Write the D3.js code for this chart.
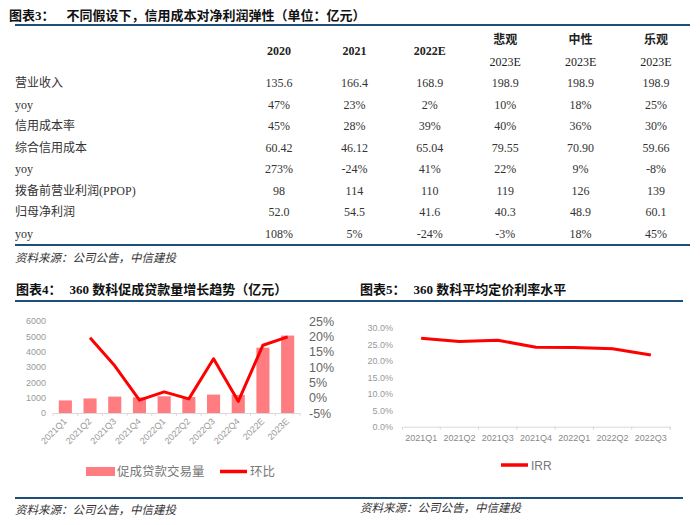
<!DOCTYPE html>
<html><head><meta charset="utf-8">
<script src="https://cdn.jsdelivr.net/npm/d3@7/dist/d3.min.js"></script>
<style>
body{margin:0;background:#fff;}
svg{display:block;}
</style></head>
<body><svg id="c" width="700" height="525"></svg>
<script>
// ---------- DATA ----------
const tableCols = ["2020","2021","2022E","2023E","2023E","2023E"];
const scenarioLabels = ["悲观","中性","乐观"];
const rowLabels = ["营业收入","yoy","信用成本率","综合信用成本","yoy","拨备前营业利润(PPOP)","归母净利润","yoy"];
const rowRevenue   = ["135.6","166.4","168.9","198.9","198.9","198.9"];
const rowRevYoy    = ["47%","23%","2%","10%","18%","25%"];
const rowCostRate  = ["45%","28%","39%","40%","36%","30%"];
const rowCredit    = ["60.42","46.12","65.04","79.55","70.90","59.66"];
const rowCreditYoy = ["273%","-24%","41%","22%","9%","-8%"];
const rowPPOP      = ["98","114","110","119","126","139"];
const rowProfit    = ["52.0","54.5","41.6","40.3","48.9","60.1"];
const rowProfitYoy = ["108%","5%","-24%","-3%","18%","45%"];
const tableRows = [rowRevenue,rowRevYoy,rowCostRate,rowCredit,rowCreditYoy,rowPPOP,rowProfit,rowProfitYoy];

const loanCats = ["2021Q1","2021Q2","2021Q3","2021Q4","2022Q1","2022Q2","2022Q3","2022Q4","2022E","2023E"];
const loanVolume = [820,950,1070,1020,1090,1040,1200,1180,4260,5050];
const loanQoQ = [null,19.5,10.4,-0.8,1.9,-0.4,12.7,-1.2,17.1,19.8];
const loanLeftTicks = [0,1000,2000,3000,4000,5000,6000];
const loanRightTicks = [-5,0,5,10,15,20,25];

const irrCats = ["2021Q1","2021Q2","2021Q3","2021Q4","2022Q1","2022Q2","2022Q3"];
const irrValues = [26.8,25.8,26.2,24.1,24.0,23.6,21.7];
const irrTicks = [0,5,10,15,20,25,30];

// ---------- STYLES ----------
const svg = d3.select("#c");
const BLUE = "#1f4e79";
const CJK = "'Noto Sans CJK SC', sans-serif";
const SERIF = "'Liberation Serif', 'Noto Sans CJK SC', serif";
const AX = "'Liberation Sans', 'Noto Sans CJK SC', sans-serif";

function hline(x1,x2,y){
  svg.append("line").attr("x1",x1).attr("x2",x2).attr("y1",y).attr("y2",y)
    .attr("stroke",BLUE).attr("stroke-width",2);
}
function title(x,y,prefix,num,rest){
  const t = svg.append("text").attr("x",x).attr("y",y).attr("font-size",13)
    .attr("font-weight","bold").attr("fill","#111");
  t.append("tspan").attr("font-family",SERIF).text(prefix);
  if(num) t.append("tspan").attr("font-family",SERIF).attr("dx",8).text(num+" ");
  t.append("tspan").attr("font-family",CJK).attr("dx",num?0:12).text(rest);
}
function source(x,y){
  svg.append("text").attr("x",x).attr("y",y).attr("font-size",11.5)
    .attr("font-family",CJK).attr("font-style","italic").attr("fill","#333")
    .text("资料来源：公司公告，中信建投");
}

// ---------- TABLE ----------
title(9,20,"图表3：",null,"不同假设下，信用成本对净利润弹性（单位：亿元）");
hline(15,690,25);
const colX = d3.scalePoint().domain(d3.range(6)).range([279,656]);
const rowY = d3.scalePoint().domain(d3.range(rowLabels.length)).range([87,238]);
tableCols.forEach((c,i)=>{
  const y = i<3 ? 55 : 66;
  svg.append("text").attr("x",colX(i)).attr("y",y).attr("text-anchor","middle")
    .attr("font-family",SERIF).attr("font-size",12)
    .attr("font-weight", i<3 ? "bold":"normal").attr("fill","#222").text(c);
});
scenarioLabels.forEach((s,i)=>{
  svg.append("text").attr("x",colX(i+3)).attr("y",44).attr("text-anchor","middle")
    .attr("font-family",CJK).attr("font-size",12).attr("font-weight","bold")
    .attr("fill","#222").text(s);
});
rowLabels.forEach((r,i)=>{
  svg.append("text").attr("x",15).attr("y",rowY(i)).attr("font-family",SERIF)
    .attr("font-size",12).attr("fill","#333").text(r);
  tableRows[i].forEach((v,j)=>{
    svg.append("text").attr("x",colX(j)).attr("y",rowY(i)).attr("text-anchor","middle")
      .attr("font-family",SERIF).attr("font-size",12).attr("fill","#333").text(v);
  });
});
hline(15,690,245);
source(15,262);

// ---------- CHART 4 ----------
title(16,294,"图表4：","360","数科促成贷款量增长趋势（亿元）");
title(360,294,"图表5：","360","数科平均定价利率水平");
hline(15,683,301);

const x4 = d3.scaleBand().domain(loanCats).range([53,300]).paddingInner(0.47).paddingOuter(0.235);
const yL = d3.scaleLinear().domain([0,6000]).range([413,321]);
const yR = d3.scaleLinear().domain([-5,25]).range([413,321]);
const g4 = svg.append("g");
g4.selectAll("rect").data(loanVolume).enter().append("rect")
  .attr("x",(d,i)=>x4(loanCats[i])).attr("width",x4.bandwidth())
  .attr("y",d=>yL(d)).attr("height",d=>yL(0)-yL(d)).attr("fill","#ff7c80");
const ax4 = g4.append("g").attr("transform","translate(0,413)")
  .call(d3.axisBottom(x4).tickSize(3).tickSizeOuter(0).tickFormat(""));
ax4.select(".domain").attr("stroke","#d9d9d9");
ax4.selectAll(".tick line").attr("stroke","#d9d9d9").attr("transform",`translate(${x4.step()/2},0)`);
g4.append("line").attr("x1",53).attr("x2",53).attr("y1",413).attr("y2",416).attr("stroke","#d9d9d9");
loanCats.forEach(c=>{
  const cx = x4(c)+x4.bandwidth()/2+2;
  g4.append("text").attr("transform",`translate(${cx},422) rotate(-45)`)
    .attr("text-anchor","end").attr("font-family",AX).attr("font-size",9)
    .attr("fill","#999").text(c);
});
const axL = g4.append("g").attr("transform","translate(46,0)")
  .call(d3.axisLeft(yL).tickValues(loanLeftTicks).tickSize(0).tickPadding(0).tickFormat(d3.format("d")));
axL.select(".domain").remove();
axL.selectAll("text").attr("font-family",AX).attr("font-size",9).attr("fill","#999");
const axR = g4.append("g").attr("transform","translate(309,0)")
  .call(d3.axisRight(yR).tickValues(loanRightTicks).tickSize(0).tickPadding(0).tickFormat(d=>d+"%"));
axR.select(".domain").remove();
axR.selectAll("text").attr("font-family",AX).attr("font-size",12.5).attr("fill","#666");
const line4 = d3.line().defined(d=>d!=null)
  .x((d,i)=>x4(loanCats[i])+x4.bandwidth()/2).y(d=>yR(d));
g4.append("path").datum(loanQoQ).attr("d",line4).attr("fill","none")
  .attr("stroke","#ff0000").attr("stroke-width",3).attr("stroke-linejoin","round");
g4.append("rect").attr("x",86).attr("y",467).attr("width",29).attr("height",9).attr("fill","#ff7c80");
g4.append("text").attr("x",117).attr("y",476).attr("font-family",CJK).attr("font-size",12.5)
  .attr("fill","#777").text("促成贷款交易量");
g4.append("line").attr("x1",220).attr("x2",247).attr("y1",471.5).attr("y2",471.5)
  .attr("stroke","#ff0000").attr("stroke-width",3.5);
g4.append("text").attr("x",250).attr("y",476).attr("font-family",CJK).attr("font-size",12.5)
  .attr("fill","#777").text("环比");

// ---------- CHART 5 ----------
const x5 = d3.scaleBand().domain(irrCats).range([402,670]);
const y5 = d3.scaleLinear().domain([0,30]).range([426.7,327.7]);
const g5 = svg.append("g");
const ax5 = g5.append("g").attr("transform","translate(0,426.7)")
  .call(d3.axisBottom(x5).tickSize(3).tickSizeOuter(3).tickPadding(5));
ax5.select(".domain").attr("stroke","#d9d9d9");
ax5.selectAll(".tick line").attr("stroke","#d9d9d9").attr("transform",`translate(${x5.step()/2},0)`);
ax5.selectAll("text").attr("font-family",AX).attr("font-size",9).attr("fill","#888");
const ay5 = g5.append("g").attr("transform","translate(393,0)")
  .call(d3.axisLeft(y5).tickValues(irrTicks).tickSize(0).tickPadding(0).tickFormat(d=>d.toFixed(1)+"%"));
ay5.select(".domain").remove();
ay5.selectAll("text").attr("font-family",AX).attr("font-size",9).attr("fill","#999");
const line5 = d3.line().x((d,i)=>x5(irrCats[i])+x5.bandwidth()/2).y(d=>y5(d));
g5.append("path").datum(irrValues).attr("d",line5).attr("fill","none")
  .attr("stroke","#ff0000").attr("stroke-width",3).attr("stroke-linejoin","round");
g5.append("line").attr("x1",501).attr("x2",528).attr("y1",465).attr("y2",465)
  .attr("stroke","#ff0000").attr("stroke-width",3.5);
g5.append("text").attr("x",531).attr("y",469.5).attr("font-family",AX).attr("font-size",12)
  .attr("fill","#777").text("IRR");

hline(15,683,498);
source(15,514);
source(360,512);
</script></body></html>
